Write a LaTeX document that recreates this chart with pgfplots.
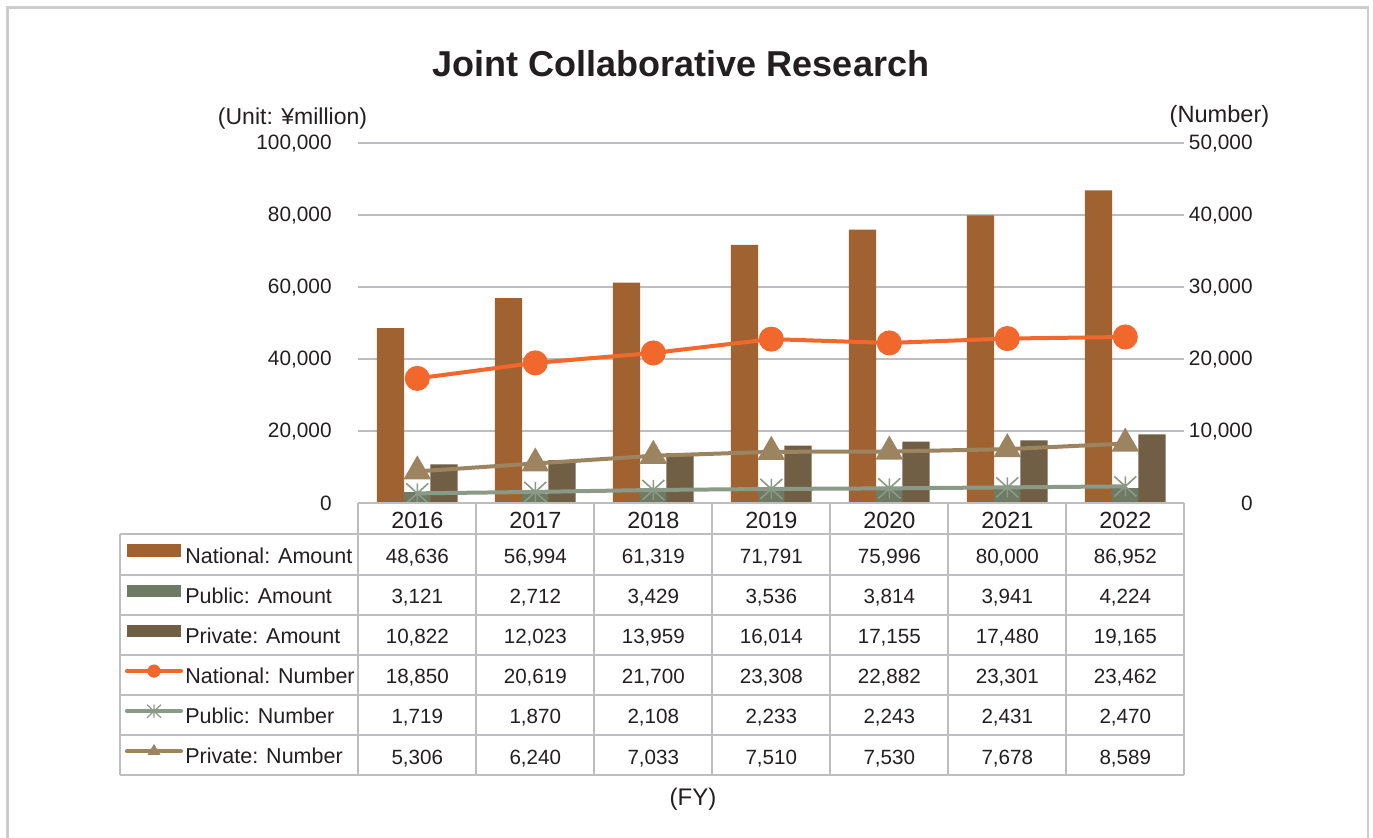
\documentclass[border=0pt]{standalone}
\usepackage{pgfplots}
\usepackage{pgfplotstable}
\pgfplotsset{compat=1.18}
\usepackage{fontspec}
\setmainfont{Liberation Sans}
\definecolor{natA}{RGB}{160,98,48}
\definecolor{pubA}{RGB}{110,122,100}
\definecolor{priA}{RGB}{112,95,69}
\definecolor{natN}{RGB}{241,103,44}
\definecolor{pubN}{RGB}{138,154,134}
\definecolor{priN}{RGB}{156,132,96}
\definecolor{gridc}{RGB}{190,190,194}
\definecolor{borderc}{RGB}{205,205,205}
\definecolor{txt}{RGB}{35,31,32}

\pgfdeclareplotmark{xast}{%
  \pgfpathmoveto{\pgfqpoint{0pt}{\pgfplotmarksize}}%
  \pgfpathlineto{\pgfqpoint{0pt}{-\pgfplotmarksize}}%
  \pgfpathmoveto{\pgfqpoint{1.1\pgfplotmarksize}{\pgfplotmarksize}}%
  \pgfpathlineto{\pgfqpoint{-1.1\pgfplotmarksize}{-\pgfplotmarksize}}%
  \pgfpathmoveto{\pgfqpoint{-1.1\pgfplotmarksize}{\pgfplotmarksize}}%
  \pgfpathlineto{\pgfqpoint{1.1\pgfplotmarksize}{-\pgfplotmarksize}}%
  \pgfusepathqstroke}

% amounts (bars, left axis) and numbers (lines, right axis) as drawn
\pgfplotstableread{
x natA pubA priA natN pubN priN
0 48636 3121 10822 17350 1380 4430
1 56994 2712 12023 19500 1580 5530
2 61319 3429 13959 20880 1850 6600
3 71791 3536 16014 22800 1990 7150
4 75996 3814 17155 22270 2075 7190
5 80000 3941 17480 22880 2210 7520
6 86952 4224 19165 23100 2350 8300
}\data

\newcommand\tickfont{\fontsize{10.4pt}{12pt}\selectfont}
\newcommand\valfont{\fontsize{10.3pt}{12pt}\selectfont}
\newcommand\labfont{\fontsize{10.75pt}{12pt}\selectfont}
\newcommand\rowvals[2]{%
  \pgfmathsetmacro\yy{534.5+40.1667*#1+20.08+8.7}%
  \foreach \v [count=\c from 0] in {#2} {%
    \pgfmathsetmacro\xx{417.3+118*\c}%
    \node[anchor=base, inner sep=0, font=\valfont, text=txt] at (\xx,\yy) {\v};%
  }}

\begin{document}
\begin{tikzpicture}
\begin{scope}[x=0.5pt,y=-0.5pt]
\useasboundingbox (0,0) rectangle (1373,838);
\fill[white] (0,0) rectangle (1373,838);
\draw[borderc, line width=1.2pt] (7.5,7.5) rectangle (1368,860);
\end{scope}

% ---- left axis: amounts (bars)
\begin{axis}[
  at={(179.15pt,-251.65pt)}, anchor=south west,
  scale only axis, width=413pt, height=180pt,
  xmin=-0.5, xmax=6.5, ymin=0, ymax=100000,
  axis line style={draw=none}, major tick length=0pt,
  ytick={0,20000,40000,60000,80000,100000},
  yticklabels={0,{20,000},{40,000},{60,000},{80,000},{100,000}},
  scaled y ticks=false,
  ymajorgrids, grid style={gridc, line width=1pt},
  xtick={0,1,2,3,4,5,6},
  xticklabels={2016,2017,2018,2019,2020,2021,2022},
  xticklabel style={anchor=center, inner sep=0pt, yshift=-8.6pt,
    font=\fontsize{11.7pt}{14pt}\selectfont, text=txt},
  yticklabel style={anchor=east, inner sep=0pt, xshift=-13.15pt,
    font=\tickfont, text=txt},
]
\addplot[ybar, bar width=13.6pt, bar shift=-13.35pt, fill=natA, draw=none] table[x=x,y=natA] {\data};
\addplot[ybar, bar width=13.6pt, bar shift=0pt, fill=pubA, draw=none] table[x=x,y=pubA] {\data};
\addplot[ybar, bar width=13.6pt, bar shift=13.35pt, fill=priA, draw=none] table[x=x,y=priA] {\data};
\end{axis}

% ---- right axis: numbers (lines)
\begin{axis}[
  at={(179.15pt,-251.65pt)}, anchor=south west,
  scale only axis, width=413pt, height=180pt,
  xmin=-0.5, xmax=6.5, ymin=0, ymax=50000,
  axis line style={draw=none}, major tick length=0pt,
  xtick=\empty,
  ytick={0,10000,20000,30000,40000,50000},
  yticklabels={0,{10,000},{20,000},{30,000},{40,000},{50,000}},
  scaled y ticks=false,
  yticklabel pos=right,
  yticklabel style={anchor=east, inner sep=0pt, xshift=34.35pt,
    font=\tickfont, text=txt},
  clip=false,
]
\addplot[pubN, line width=2pt, mark=xast, mark size=5pt,
  mark options={line width=0.8pt}] table[x=x,y=pubN] {\data};
\addplot[priN, line width=2pt, mark=triangle*, mark size=6pt] table[x=x,y=priN] {\data};
\addplot[natN, line width=2pt, mark=*, mark size=5.25pt] table[x=x,y=natN] {\data};
\end{axis}

\begin{scope}[x=0.5pt,y=-0.5pt]
% title and unit labels
\node[anchor=base, inner sep=0, font=\fontsize{18pt}{20pt}\selectfont\bfseries, text=txt] at (681,76.7) {Joint Collaborative Research};
\node[inner sep=0, font=\fontsize{11.5pt}{13pt}\selectfont, text=txt] at (292.5,119) {(Unit: ¥million)};
\node[inner sep=0, font=\fontsize{11.8pt}{13pt}\selectfont, text=txt] at (1219.5,116.5) {(Number)};
\node[inner sep=0, font=\fontsize{12pt}{13pt}\selectfont, text=txt] at (693,799) {(FY)};
% table grid
\draw[gridc, line width=1pt] (358.3,503.3) -- (1184.3,503.3);
\foreach \k in {0,...,6} {
  \pgfmathsetmacro\yy{534.5+40.1667*\k}
  \draw[gridc, line width=1pt] (120,\yy) -- (1184.3,\yy);
}
\draw[gridc, line width=1pt] (120,534.5) -- (120,775.5);
\foreach \k in {0,...,7} {
  \pgfmathsetmacro\xx{358.3+118*\k}
  \draw[gridc, line width=1pt] (\xx,503.3) -- (\xx,775.5);
}
% row labels and legend keys
\foreach \lab [count=\r from 0] in {National: Amount,Public: Amount,Private: Amount,National: Number,Public: Number,Private: Number} {
  \pgfmathsetmacro\yy{534.5+40.1667*\r+20.08+8.5}
  \node[anchor=base west, inner sep=0, font=\labfont, text=txt] at (185,\yy) {\lab};
}
\pgfmathsetmacro\ya{534.5+20.08-4}
\fill[natA] (127.3,\ya-6.2) rectangle (180.7,\ya+6.2);
\pgfmathsetmacro\ya{534.5+40.1667+20.08-4}
\fill[pubA] (127.3,\ya-6.2) rectangle (180.7,\ya+6.2);
\pgfmathsetmacro\ya{534.5+2*40.1667+20.08-4}
\fill[priA] (127.3,\ya-6.2) rectangle (180.7,\ya+6.2);
\pgfmathsetmacro\ya{534.5+3*40.1667+20.08-4}
\draw[natN, line width=2pt, line cap=round] (127,\ya) -- (181,\ya);
\fill[natN] (154,\ya) circle (3.3pt);
\pgfmathsetmacro\ya{534.5+4*40.1667+20.08-4}
\draw[pubN, line width=2pt, line cap=round] (127,\ya) -- (181,\ya);
\draw[pubN, line width=0.6pt] (154,\ya-6.5) -- (154,\ya+6.5) (147,\ya-6.5) -- (161,\ya+6.5) (147,\ya+6.5) -- (161,\ya-6.5);
\pgfmathsetmacro\ya{534.5+5*40.1667+20.08-4}
\draw[priN, line width=2pt, line cap=round] (127,\ya) -- (181,\ya);
\fill[priN] (154,\ya-7.5) -- (160.5,\ya+3.5) -- (147.5,\ya+3.5) -- cycle;
% values shown in the data table
\rowvals{0}{{48,636},{56,994},{61,319},{71,791},{75,996},{80,000},{86,952}}
\rowvals{1}{{3,121},{2,712},{3,429},{3,536},{3,814},{3,941},{4,224}}
\rowvals{2}{{10,822},{12,023},{13,959},{16,014},{17,155},{17,480},{19,165}}
\rowvals{3}{{18,850},{20,619},{21,700},{23,308},{22,882},{23,301},{23,462}}
\rowvals{4}{{1,719},{1,870},{2,108},{2,233},{2,243},{2,431},{2,470}}
\rowvals{5}{{5,306},{6,240},{7,033},{7,510},{7,530},{7,678},{8,589}}
\end{scope}
\end{tikzpicture}
\end{document}
